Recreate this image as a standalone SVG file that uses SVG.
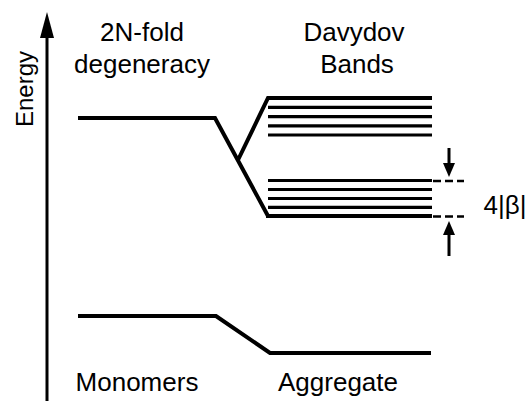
<svg xmlns="http://www.w3.org/2000/svg" width="528" height="401" viewBox="0 0 528 401">
<style>
.lbl{font-family:"Liberation Sans",Arial,sans-serif;font-size:26px;fill:#000;text-anchor:middle}
.lv{fill:none;stroke:#000;stroke-width:4;stroke-linejoin:miter}
.band{stroke:#000;stroke-width:3.2}
.dash{stroke:#000;stroke-width:2.5;stroke-dasharray:8 4}
.shaft{stroke:#000;stroke-width:3}
</style>
<g id="axis">
<line x1="47" y1="30" x2="47" y2="401" class="shaft"/>
<polygon points="47,12 40,38 54,38" fill="#000"/>
<text class="lbl" style="font-size:24px" transform="translate(33,89) rotate(-90)">Energy</text>
</g>
<g id="labels">
<text class="lbl" x="142" y="41">2N-fold</text>
<text class="lbl" x="142" y="73">degeneracy</text>
<text class="lbl" x="354" y="41">Davydov</text>
<text class="lbl" x="357" y="73">Bands</text>
<text class="lbl" x="137" y="391">Monomers</text>
<text class="lbl" x="338" y="391">Aggregate</text>
<text class="lbl" x="505" y="214">4|β|</text>
</g>
<g id="excited-monomer">
<polyline class="lv" points="78,118 215,118 268,216"/>
<polyline class="lv" points="238,160 268,98 432,98"/>
</g>
<g id="davydov-bands">
<line class="band" x1="268" y1="107.3" x2="432" y2="107.3"/>
<line class="band" x1="268" y1="116.6" x2="432" y2="116.6"/>
<line class="band" x1="268" y1="125.8" x2="432" y2="125.8"/>
<line class="band" x1="268" y1="135" x2="432" y2="135"/>
<line class="band" x1="268" y1="180.5" x2="432" y2="180.5"/>
<line class="band" x1="268" y1="189.5" x2="432" y2="189.5"/>
<line class="band" x1="268" y1="198.5" x2="432" y2="198.5"/>
<line class="band" x1="268" y1="207.3" x2="432" y2="207.3"/>
<line class="lv" x1="266" y1="216" x2="432" y2="216"/>
</g>
<g id="ground">
<polyline class="lv" points="78,316 216,316 270,353 431,353"/>
</g>
<g id="connectors">
<line class="dash" x1="433" y1="181" x2="464" y2="181"/>
<line class="dash" x1="433" y1="216.5" x2="464" y2="216.5"/>
<line class="shaft" x1="449" y1="148" x2="449" y2="166"/>
<polygon points="449,177 443,163 455,163" fill="#000"/>
<line class="shaft" x1="449" y1="232" x2="449" y2="256"/>
<polygon points="449,221 443,235 455,235" fill="#000"/>
</g>
</svg>
